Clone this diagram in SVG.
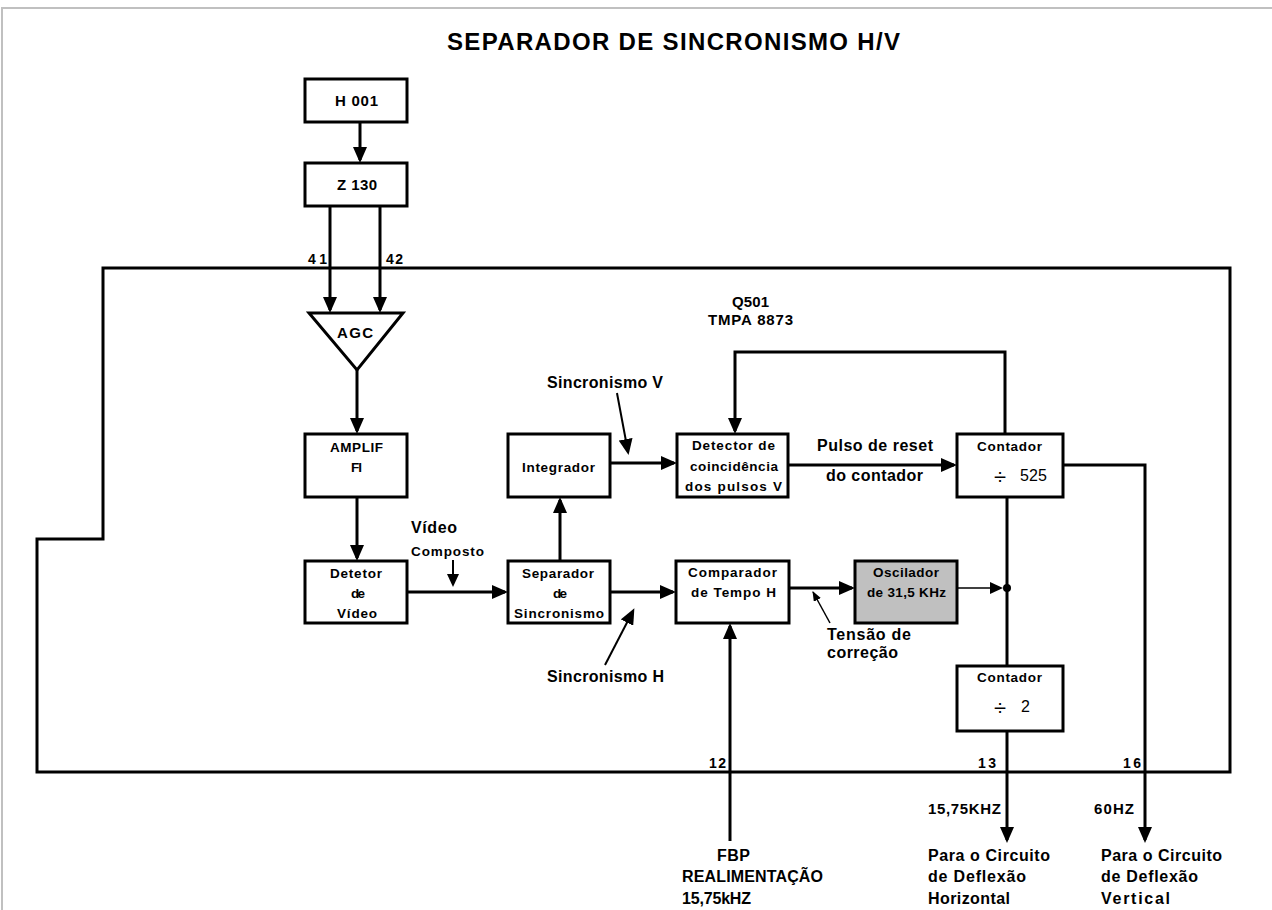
<svg xmlns="http://www.w3.org/2000/svg" width="1272" height="910" viewBox="0 0 1272 910">
<defs>
<marker id="ah" markerUnits="userSpaceOnUse" viewBox="0 0 16 14" refX="13" refY="7" markerWidth="16" markerHeight="14" orient="auto"><path d="M0,0 L16,7 L0,14 z" fill="#000"/></marker>
<marker id="ahm" markerUnits="userSpaceOnUse" viewBox="0 0 13 12" refX="11" refY="6" markerWidth="13" markerHeight="12" orient="auto"><path d="M0,0 L13,6 L0,12 z" fill="#000"/></marker>
<marker id="ahs" markerUnits="userSpaceOnUse" viewBox="0 0 10 8" refX="9" refY="4" markerWidth="10" markerHeight="8" orient="auto"><path d="M0,0 L10,4 L0,8 z" fill="#000"/></marker>
</defs>
<style>
.bx{fill:#fff;stroke:#000;stroke-width:3}
.ln{fill:none;stroke:#000;stroke-width:3}
.md{fill:none;stroke:#000;stroke-width:2}
.tn{fill:none;stroke:#000;stroke-width:1.5}
text{font-family:"Liberation Sans",Arial,sans-serif;font-weight:bold;fill:#000}
.bt{font-size:13.5px}
.s14{font-size:14px}
.s15{font-size:15px}
.s16{font-size:16px}
.dv{font-size:22px;font-weight:normal;text-anchor:middle}
</style>
<g id="page-border"><path d="M2,910 V8 H1272" fill="none" stroke="#c0c0c0" stroke-width="2"/></g>
<g id="title"><text x="447" y="50" style="font-size:24px" textLength="453" lengthAdjust="spacing">SEPARADOR DE SINCRONISMO H/V</text></g>
<g id="chip-frame">
<path d="M103,268 H1230 V772 H37 V539 H103 Z" class="ln"/>
<text class="s15" x="732" y="307" textLength="37" lengthAdjust="spacing">Q501</text>
<text class="s15" x="708" y="325" textLength="85" lengthAdjust="spacing">TMPA 8873</text>
</g>
<g id="connectors">
<path d="M360,122 V160" class="ln" marker-end="url(#ah)"/>
<path d="M330,206 V310" class="ln" marker-end="url(#ah)"/>
<path d="M380,206 V310" class="ln" marker-end="url(#ah)"/>
<path d="M357,370 V431" class="ln" marker-end="url(#ah)"/>
<path d="M357,497 V558" class="ln" marker-end="url(#ah)"/>
<path d="M407,592 H505" class="ln" marker-end="url(#ah)"/>
<path d="M560,561 V500" class="ln" marker-end="url(#ah)"/>
<path d="M610,463 H674" class="ln" marker-end="url(#ah)"/>
<path d="M788,465 H954" class="ln" marker-end="url(#ah)"/>
<path d="M1005,434 V352 H735 V431" class="ln" marker-end="url(#ah)"/>
<path d="M1063,465 H1145 V840" class="ln" marker-end="url(#ah)"/>
<path d="M1007,497 V666" class="ln"/>
<path d="M610,592 H673" class="ln" marker-end="url(#ah)"/>
<path d="M789,588 H852" class="ln" marker-end="url(#ah)"/>
<path d="M730,841 V626" class="ln" marker-end="url(#ah)"/>
<path d="M1007,731 V840" class="ln" marker-end="url(#ah)"/>
<path d="M957,588 H1001" class="tn" marker-end="url(#ahm)"/>
<circle cx="1007" cy="588" r="4" fill="#000"/>
<path d="M453,560 V585" class="md" marker-end="url(#ahm)"/>
<path d="M617,393 L628,452" class="md" marker-end="url(#ah)"/>
<path d="M605,665 L633,611" class="md" marker-end="url(#ah)"/>
<path d="M830,623 L813,592" class="tn" marker-end="url(#ahs)"/>
</g>
<g id="h001"><rect x="305" y="79" width="102" height="43" class="bx"/><text class="s15" x="335" y="106" textLength="43" lengthAdjust="spacing">H 001</text></g>
<g id="z130"><rect x="305" y="163" width="102" height="43" class="bx"/><text class="s15" x="337" y="190" textLength="40" lengthAdjust="spacing">Z 130</text></g>
<g id="pins">
<text class="s14" x="308" y="264" textLength="19" lengthAdjust="spacing">41</text>
<text class="s14" x="386" y="264" textLength="17" lengthAdjust="spacing">42</text>
<text class="s14" x="709" y="768" textLength="17" lengthAdjust="spacing">12</text>
<text class="s14" x="978" y="768" textLength="18" lengthAdjust="spacing">13</text>
<text class="s14" x="1123" y="768" textLength="18" lengthAdjust="spacing">16</text>
</g>
<g id="agc"><polygon points="309,313 403,313 357,370" class="bx"/><text class="s15" x="337" y="338" textLength="36" lengthAdjust="spacing">AGC</text></g>
<g id="amplif-fi"><rect x="305" y="434" width="102" height="63" class="bx"/>
<text class="bt" x="330" y="452" textLength="53" lengthAdjust="spacing">AMPLIF</text>
<text class="bt" x="351" y="472" textLength="11" lengthAdjust="spacing">FI</text></g>
<g id="detetor-video"><rect x="305" y="561" width="102" height="62" class="bx"/>
<text class="bt" x="330" y="578" textLength="52" lengthAdjust="spacing">Detetor</text>
<text class="bt" x="351" y="598" textLength="14" lengthAdjust="spacing">de</text>
<text class="bt" x="337" y="618" textLength="40" lengthAdjust="spacing">Vídeo</text></g>
<g id="video-composto-label">
<text class="s16" x="411" y="533" textLength="46" lengthAdjust="spacing">Vídeo</text>
<text class="bt" x="411" y="556" textLength="73" lengthAdjust="spacing">Composto</text></g>
<g id="separador"><rect x="508" y="561" width="102" height="62" class="bx"/>
<text class="bt" x="522" y="578" textLength="72" lengthAdjust="spacing">Separador</text>
<text class="bt" x="553" y="598" textLength="14" lengthAdjust="spacing">de</text>
<text class="bt" x="514" y="618" textLength="90" lengthAdjust="spacing">Sincronismo</text></g>
<g id="integrador"><rect x="508" y="434" width="102" height="63" class="bx"/>
<text class="bt" x="522" y="472" textLength="73" lengthAdjust="spacing">Integrador</text></g>
<g id="sinc-labels">
<text class="s16" x="547" y="388" textLength="116" lengthAdjust="spacing">Sincronismo V</text>
<text class="s16" x="547" y="682" textLength="117" lengthAdjust="spacing">Sincronismo H</text></g>
<g id="detector-coincidencia"><rect x="677" y="434" width="111" height="63" class="bx"/>
<text class="bt" x="692" y="450" textLength="83" lengthAdjust="spacing">Detector de</text>
<text class="bt" x="690" y="471" textLength="88" lengthAdjust="spacing">coincidência</text>
<text class="bt" x="685" y="491" textLength="97" lengthAdjust="spacing">dos pulsos V</text></g>
<g id="pulso-label">
<text class="s16" x="817" y="451" textLength="116" lengthAdjust="spacing">Pulso de reset</text>
<text class="s16" x="826" y="481" textLength="97" lengthAdjust="spacing">do contador</text></g>
<g id="contador-525"><rect x="957" y="434" width="106" height="63" class="bx"/>
<text class="bt" x="977" y="451" textLength="65" lengthAdjust="spacing">Contador</text>
<text class="dv" x="1000" y="484">÷</text>
<text x="1020" y="481" style="font-size:16px;font-weight:normal" textLength="27" lengthAdjust="spacing">525</text></g>
<g id="comparador"><rect x="676" y="561" width="113" height="62" class="bx"/>
<text class="bt" x="688" y="577" textLength="89" lengthAdjust="spacing">Comparador</text>
<text class="bt" x="691" y="597" textLength="85" lengthAdjust="spacing">de Tempo H</text></g>
<g id="oscilador"><rect x="855" y="561" width="102" height="62" class="bx" style="fill:#c0c0c0"/>
<text class="bt" x="873" y="577" textLength="66" lengthAdjust="spacing">Oscilador</text>
<text class="bt" x="867" y="597" textLength="79" lengthAdjust="spacing">de 31,5 KHz</text></g>
<g id="tensao-label">
<text class="s16" x="827" y="640" textLength="84" lengthAdjust="spacing">Tensão de</text>
<text class="s16" x="827" y="658" textLength="71" lengthAdjust="spacing">correção</text></g>
<g id="contador-2"><rect x="957" y="666" width="106" height="65" class="bx"/>
<text class="bt" x="977" y="682" textLength="65" lengthAdjust="spacing">Contador</text>
<text class="dv" x="1000" y="715">÷</text>
<text x="1021" y="712" style="font-size:16px;font-weight:normal" textLength="9" lengthAdjust="spacing">2</text></g>
<g id="fbp-label">
<text class="s16" x="717" y="861" textLength="33" lengthAdjust="spacing">FBP</text>
<text class="s16" x="682" y="882" textLength="141" lengthAdjust="spacing">REALIMENTAÇÃO</text>
<text class="s16" x="682" y="904" textLength="69" lengthAdjust="spacing">15,75kHZ</text></g>
<g id="out-horizontal">
<text class="s15" x="928" y="814" textLength="73" lengthAdjust="spacing">15,75KHZ</text>
<text class="s16" x="928" y="861" textLength="122" lengthAdjust="spacing">Para o Circuito</text>
<text class="s16" x="928" y="882" textLength="98" lengthAdjust="spacing">de Deflexão</text>
<text class="s16" x="928" y="904" textLength="82" lengthAdjust="spacing">Horizontal</text></g>
<g id="out-vertical">
<text class="s15" x="1094" y="814" textLength="40" lengthAdjust="spacing">60HZ</text>
<text class="s16" x="1101" y="861" textLength="121" lengthAdjust="spacing">Para o Circuito</text>
<text class="s16" x="1101" y="882" textLength="97" lengthAdjust="spacing">de Deflexão</text>
<text class="s16" x="1101" y="904" textLength="69" lengthAdjust="spacing">Vertical</text></g>
</svg>
